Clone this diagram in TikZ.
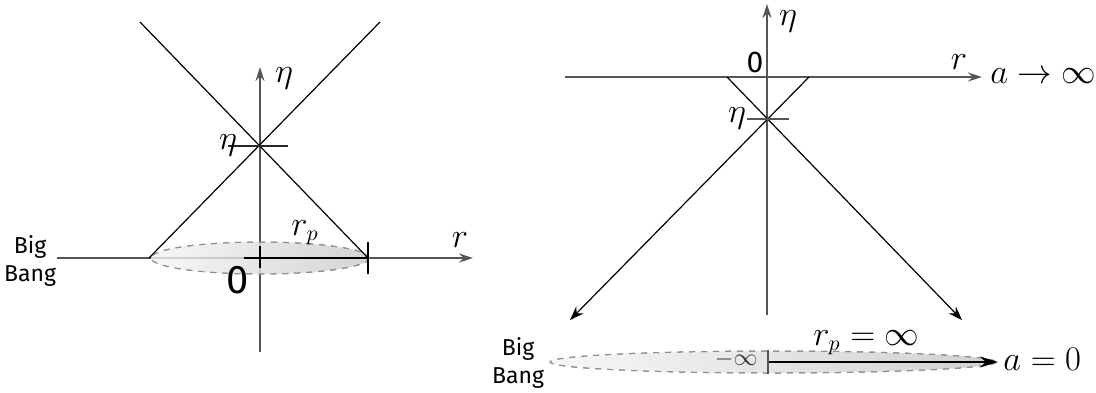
\documentclass[tikz,border=0pt]{standalone}
\usepackage{fontspec}
\newfontfamily\sansf{Fira Sans}
\usetikzlibrary{arrows.meta}
\definecolor{axgray}{RGB}{85,85,85}
\definecolor{dashgray}{RGB}{140,140,140}
\begin{document}
\begin{tikzpicture}[x=0.5pt,y=-0.5pt,
  axis/.style={draw=axgray,line width=0.7pt,-{Stealth[length=7pt,width=4.5pt]}},
  cone/.style={draw=black,line width=0.6pt},
  conearr/.style={cone,-{Stealth[length=7pt,width=5pt]}},
  lbl/.style={inner sep=0pt,font=\fontsize{16}{19}\selectfont},
  etalbl/.style={inner sep=0pt,font=\fontsize{17.5}{20}\selectfont},
  smlbl/.style={inner sep=0pt,text=black!80,font=\fontsize{12.5}{15}\selectfont},
  bb/.style={inner sep=0pt,align=center,font=\sansf\fontsize{11.5}{14}\selectfont},
  zero/.style={inner sep=0pt,font=\sansf\fontsize{20}{22}\selectfont},
  blob/.style={draw=dashgray,dashed,line width=0.5pt,fill opacity=0.8}]
\useasboundingbox (0,0) rectangle (1096,392);

% ---------------- left diagram ----------------
\coordinate (L0) at (260,258);
\coordinate (Lx0) at (57,258);
\coordinate (Lx1) at (473,258);
\coordinate (Ly0) at (260,352);
\coordinate (Ly1) at (260,67);
\coordinate (LE) at (260,146);
\coordinate (LTL) at (140,22);
\coordinate (LTR) at (380,22);
\coordinate (LBL) at (149,258);
\coordinate (LBR) at (368,258);

\draw[axis] (Lx0) -- (Lx1);
\draw[axis] (Ly0) -- (Ly1);
\shade[blob,left color=gray!8,right color=gray!42] (L0) ellipse [x radius=109,y radius=16];
\draw[blob,fill=none] (L0) ellipse [x radius=109,y radius=16];
\draw[cone] (LTL) -- (LBR);
\draw[cone] (LTR) -- (LBL);
\draw[line width=1pt] (L0) -- (LBR);
\draw[line width=1pt] ([yshift=-8]LBR) -- ([yshift=8]LBR);
\draw[line width=1pt] ([xshift=-8]L0) -- ([xshift=8]L0);
\draw[line width=1pt] ([yshift=-5]L0) -- ([yshift=6]L0);
\draw[line width=0.9pt,draw=black!85] ([xshift=-16]LE) -- ([xshift=14]LE);

\node[etalbl] (Leta) at (284,78) {$\eta$};
\node[etalbl] (LetaE) at (228,145) {$\eta$};
\node[lbl] (Lr) at (460,240) {$r$};
\node[lbl] (Lrp) at (305,233) {$r_p$};
\node[zero] (Lzero) at (238,280) {0};
\node[bb] (Lbb) at (30,261) {Big\\Bang};

% ---------------- right diagram ----------------
\coordinate (R0) at (767,77);
\coordinate (Rx0) at (565,77);
\coordinate (Rx1) at (982,77);
\coordinate (Ry0) at (767,315);
\coordinate (Ry1) at (767,4);
\coordinate (RE) at (767,119);
\coordinate (RTL) at (727,77);
\coordinate (RTR) at (809,77);
\coordinate (RBL) at (570,320);
\coordinate (RBR) at (962,320);
\coordinate (RC) at (773,362);
\coordinate (Ra) at (768,362);
\coordinate (Rb) at (998,362);

\draw[axis] (Rx0) -- (Rx1);
\draw[axis] (Ry0) -- (Ry1);
\draw[conearr] (RTL) -- (RBR);
\draw[conearr] (RTR) -- (RBL);
\draw[line width=0.7pt,draw=axgray] ([xshift=-10]RE) -- ([xshift=11]RE);
\shade[blob,left color=gray!8,right color=gray!45] (RC) ellipse [x radius=223,y radius=11];
\draw[blob,fill=none] (RC) ellipse [x radius=223,y radius=11];
\draw[line width=0.7pt,-{Stealth[length=9pt,width=5.5pt]}] (Ra) -- (Rb);
\draw[line width=0.7pt,draw=axgray] ([yshift=-6]Ra) -- ([yshift=6]Ra);

\node[etalbl] (Reta) at (788,21) {$\eta$};
\node[etalbl] (RetaE) at (737,118) {$\eta$};
\node[zero,font=\sansf\fontsize{15}{17}\selectfont] (Rzero) at (755,62) {0};
\node[lbl] (Rr) at (959,62) {$r$};
\node[lbl,anchor=base west] (Rainf) at (990,83) {$a\to\infty$};
\node[lbl,anchor=base west] (Ra0) at (1003,370) {$a=0$};
\node[smlbl,anchor=east] (Rminf) at (758,359) {$-\infty$};
\node[lbl,anchor=base west] (Rrp) at (813,345) {$r_p=\infty$};
\node[bb] (Rbb) at (518,363) {Big\\Bang};
\end{tikzpicture}
\end{document}
